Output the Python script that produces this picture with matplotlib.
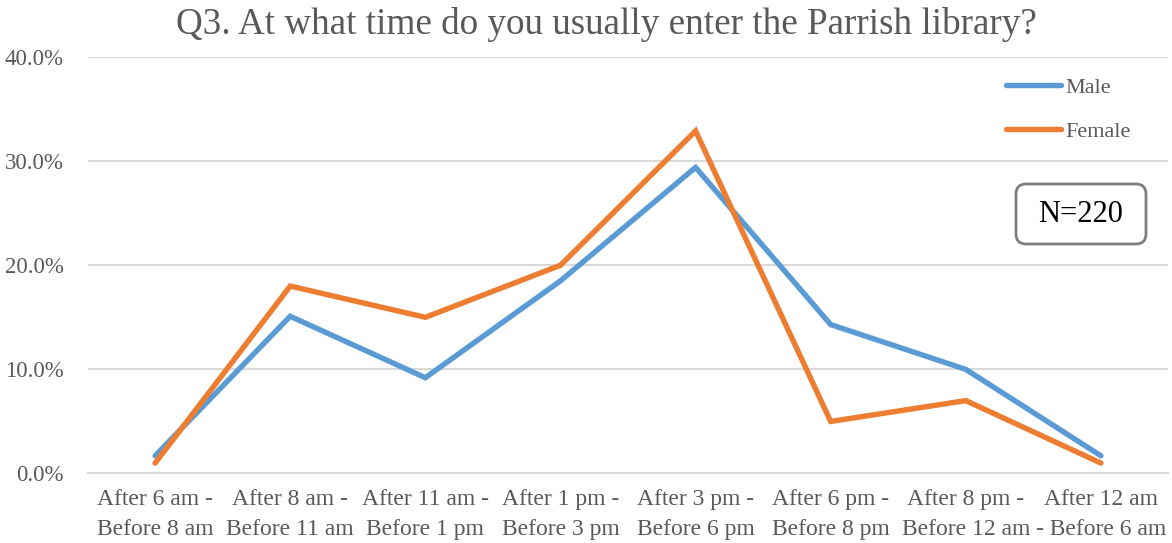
import numpy as np
import matplotlib.pyplot as plt
from matplotlib.patches import FancyBboxPatch

# Survey results, share of respondents by entry time
time_slots = ["After 6 am -\nBefore 8 am", "After 8 am -\nBefore 11 am", "After 11 am -\nBefore 1 pm",
              "After 1 pm -\nBefore 3 pm", "After 3 pm -\nBefore 6 pm", "After 6 pm -\nBefore 8 pm",
              "After 8 pm -\nBefore 12 am", "After 12 am\n- Before 6 am"]
male = [1.7, 15.1, 9.2, 18.5, 29.4, 14.3, 10.0, 1.7]
female = [1.0, 18.0, 15.0, 20.0, 32.9, 5.0, 7.0, 1.0]
yticks = [0, 10, 20, 30, 40]

BLUE = "#5B9BD5"
ORANGE = "#ED7D31"
GREY35 = "#595959"
GRID = "#D9D9D9"

plt.rcParams["font.family"] = ["Liberation Serif", "DejaVu Serif"]

fig = plt.figure(figsize=(11.72, 5.43), dpi=100)
ax = fig.add_axes([0.0747, 0.128, 0.9223, 0.767])

x = np.arange(len(time_slots))
ax.plot(x, male, color=BLUE, lw=3.9, label="Male", solid_capstyle="round", solid_joinstyle="miter", zorder=3)
ax.plot(x, female, color=ORANGE, lw=3.9, label="Female", solid_capstyle="round", solid_joinstyle="miter", zorder=3)

ax.set_xlim(-0.5, len(time_slots) - 0.5)
ax.set_ylim(0, 40)
ax.set_yticks(yticks)
ax.set_yticklabels(["{:.1f}%".format(v) for v in yticks], fontsize=16.5, color=GREY35)
ax.set_xticks(x)
ax.set_xticklabels([])
for i, lab in enumerate(time_slots):
    ax.text(i, -1.5, lab, ha="center", va="top", fontsize=17, color=GREY35,
            linespacing=1.55, transform=ax.transData, clip_on=False)

ax.tick_params(axis="both", length=0, pad=17)
ax.grid(axis="y", color=GRID, lw=1.5)
ax.set_axisbelow(True)
for side in ["top", "right", "left"]:
    ax.spines[side].set_visible(False)
ax.spines["bottom"].set_color(GRID)
ax.spines["bottom"].set_linewidth(1.5)

fig.text(0.517, 0.954, "Q3. At what time do you usually enter the Parrish library?",
         ha="center", va="center", fontsize=26.7, color=GREY35)

leg = ax.legend(loc="upper left", bbox_to_anchor=(0.858, 0.857), bbox_transform=fig.transFigure,
                frameon=False, fontsize=16, handlelength=2.5, handletextpad=0.2,
                labelspacing=1.05, borderaxespad=0, borderpad=0)
for t in leg.get_texts():
    t.set_color(GREY35)

# sample size callout, drawn in pixel space
box = FancyBboxPatch((1016, 543 - 244), 130, 60, boxstyle="round,pad=0,rounding_size=10",
                     transform=None, fc="white", ec="#7F7F7F", lw=2, zorder=5)
fig.add_artist(box)
fig.text(1081 / 1172, 1 - 214 / 543, "N=220", fontsize=22, color="black",
         ha="center", va="center", zorder=6)

fig.savefig("out.png", dpi=100)
